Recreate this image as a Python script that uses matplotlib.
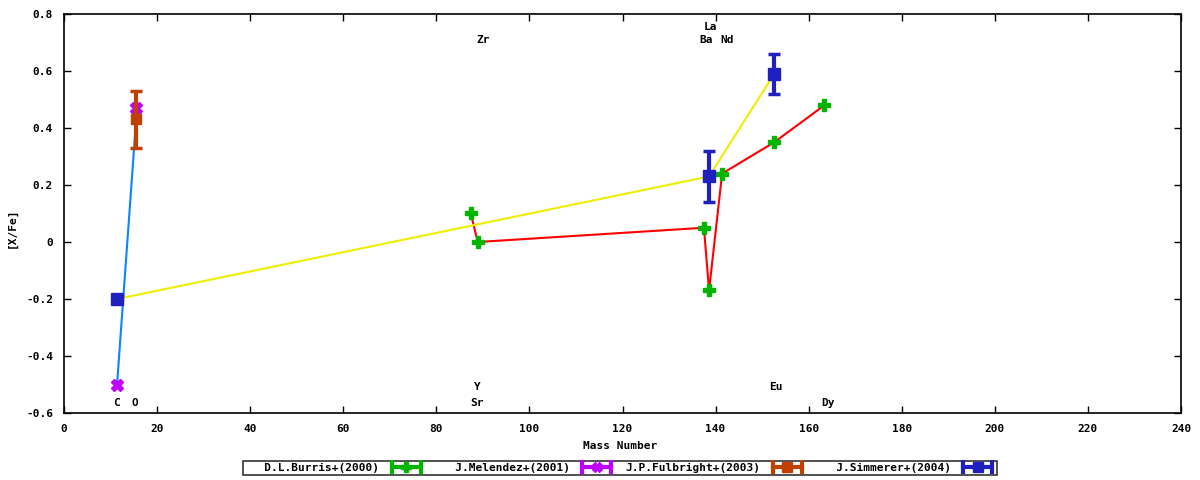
import matplotlib
matplotlib.use("Agg")
import matplotlib.pyplot as plt
from matplotlib.lines import Line2D
from matplotlib.legend_handler import HandlerLine2D

plt.rcParams['font.family'] = ['DejaVu Sans Mono']
plt.rcParams['font.size'] = 8
plt.rcParams['font.weight'] = 'bold'

# donnees
burris_mass = [87.4, 88.9, 137.5, 138.6, 141.4, 152.6, 163.4]
burris_xfe = [0.10, 0.00, 0.05, -0.17, 0.24, 0.35, 0.48]

melendez_mass = [11.4, 15.5]
melendez_xfe = [-0.50, 0.47]

fulbright_mass = [15.5]
fulbright_xfe = [0.43]
fulbright_err = [0.10]

simmerer_mass = [11.4, 138.6, 152.6]
simmerer_xfe = [-0.20, 0.23, 0.59]
simmerer_err = [0.0, 0.09, 0.07]

# ligne C -> O
link_co_mass = [11.4, 15.5]
link_co_xfe = [-0.50, 0.43]

# etiquettes des elements (nom, x, y)
elements = [("Zr", 90, 0.71), ("La", 139, 0.755), ("Ba", 138, 0.71), ("Nd", 142.5, 0.71),
            ("Y", 88.8, -0.51), ("Eu", 153, -0.51),
            ("C", 11.3, -0.565), ("O", 15.3, -0.565), ("Sr", 88.8, -0.565), ("Dy", 164.2, -0.565)]

green = '#00b400'
magenta = '#c000ff'
orange = '#c04000'
blue = '#2020c0'

fig = plt.figure(figsize=(12, 4.8), dpi=100)
ax = fig.add_axes([64 / 1200, 67 / 480, 1117 / 1200, 399 / 480])

ax.plot(burris_mass, burris_xfe, color='red', lw=1.5, zorder=2)
ax.plot(simmerer_mass, simmerer_xfe, color='#eeee00', lw=1.5, zorder=2)
ax.plot(link_co_mass, link_co_xfe, color='#0a84ff', lw=1.5, zorder=2)

ax.errorbar(burris_mass, burris_xfe, yerr=[0] * len(burris_mass), fmt='P', color=green,
            ms=8, mec=green, capsize=0, zorder=3)
ax.errorbar(melendez_mass, melendez_xfe, yerr=[0] * 2, fmt='X', color=magenta,
            ms=8, capsize=0, zorder=3)
ax.errorbar(fulbright_mass, fulbright_xfe, yerr=fulbright_err, fmt='s', color=orange,
            ms=7, elinewidth=3, capsize=4, capthick=2.5, zorder=4)
ax.errorbar(simmerer_mass, simmerer_xfe, yerr=simmerer_err, fmt='s', color=blue,
            ms=8, elinewidth=3, capsize=4, capthick=2.5, zorder=4)

for nom, x, y in elements:
    ax.text(x, y, nom, ha='center', va='center', fontsize=8, fontweight='bold')

ax.set_xlim(0, 240)
ax.set_ylim(-0.6, 0.8)
ax.set_xticks(range(0, 241, 20))
ax.set_yticks([-0.6, -0.4, -0.2, 0, 0.2, 0.4, 0.6, 0.8])
ax.set_yticklabels(["-0.6", "-0.4", "-0.2", "0", "0.2", "0.4", "0.6", "0.8"])
ax.tick_params(direction='in', top=True, right=True, length=5, width=1, pad=8)
for s in ax.spines.values():
    s.set_linewidth(1.2)

fig.text(620 / 1200, 1 - 446 / 480, "Mass Number", ha='center', va='center', fontweight='bold')
fig.text(12 / 1200, 1 - 228 / 480, "[X/Fe]", ha='center', va='center', rotation=90, fontweight='bold')

# legende facon gnuplot : texte aligne a droite puis barre avec embouts
noms = ["D.L.Burris+(2000)", "J.Melendez+(2001)", "J.P.Fulbright+(2003)", "J.Simmerer+(2004)"]
largeur = max(len(n) for n in noms)
noms = [n.rjust(largeur) for n in noms]
couleurs = [green, magenta, orange, blue]
marqueurs = ['P', 'X', 's', 's']
handles = []
hmap = {}
for c, m in zip(couleurs, marqueurs):
    cap = Line2D([], [], color=c, lw=3, marker='|', ms=10, mew=3)
    pt = Line2D([], [], color=c, lw=0, marker=m, ms=7)
    hmap[cap] = HandlerLine2D(numpoints=2)
    hmap[pt] = HandlerLine2D(numpoints=1)
    handles.append((cap, pt))

leg = fig.legend(handles, noms, handler_map=hmap, loc='center', bbox_to_anchor=(620 / 1200, 1 - 468 / 480),
                 ncol=4, markerfirst=False, frameon=True, fancybox=False, edgecolor='black',
                 handlelength=3.2, columnspacing=1.0, borderpad=0.15, handletextpad=0.8,
                 prop={'family': 'DejaVu Sans Mono', 'weight': 'bold', 'size': 8})
leg.get_frame().set_linewidth(1.2)

fig.savefig("out.png", dpi=100)
